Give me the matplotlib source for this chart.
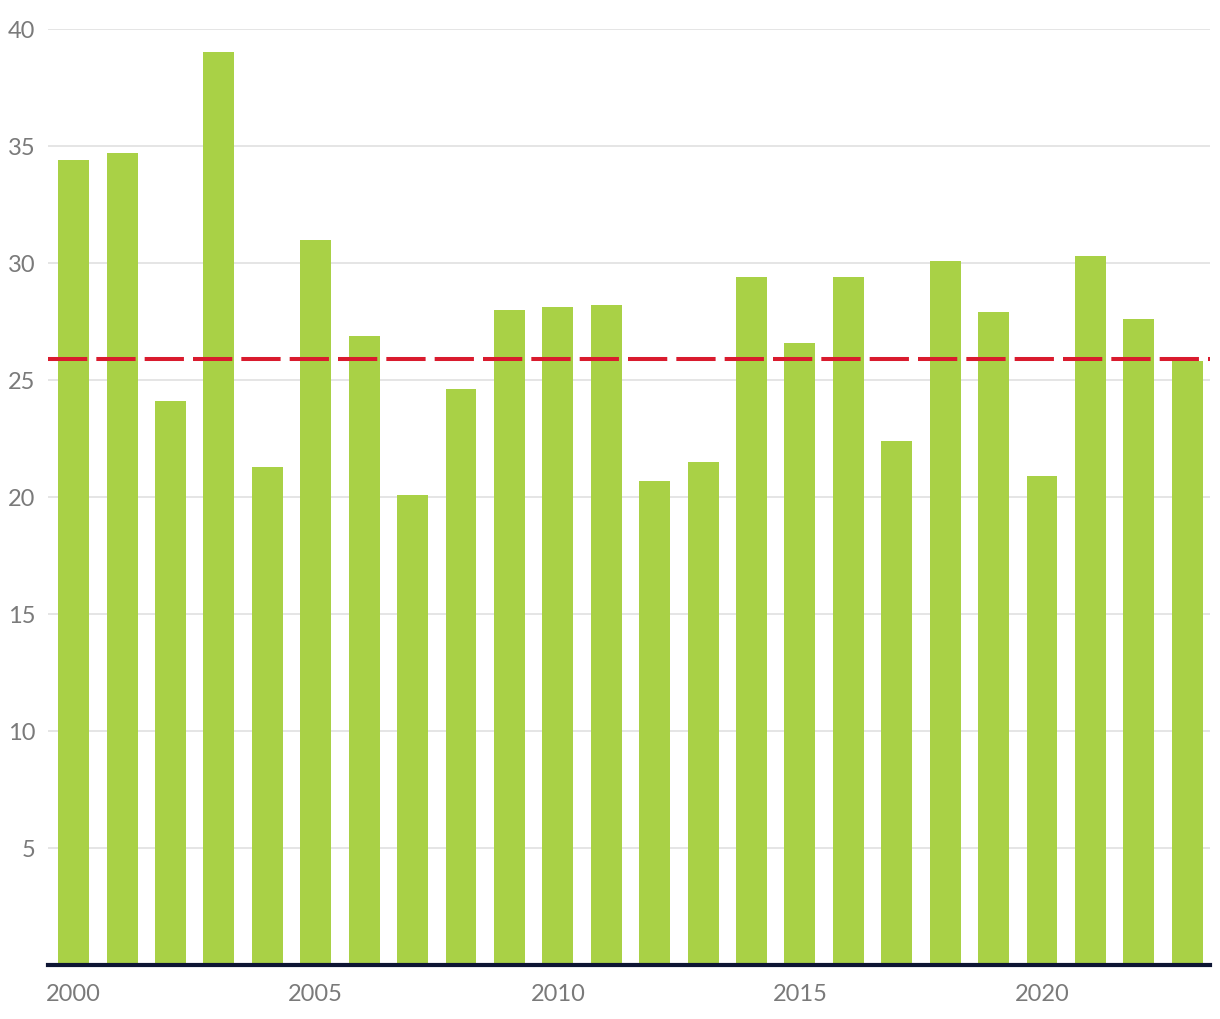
import matplotlib
matplotlib.use("Agg")
import matplotlib.pyplot as plt

years = list(range(2000, 2024))
values = [34.4, 34.7, 24.1, 39.0, 21.3, 31.0, 26.9, 20.1, 24.6, 28.0, 28.1, 28.2,
          20.7, 21.5, 29.4, 26.6, 29.4, 22.4, 30.1, 27.9, 20.9, 30.3, 27.6, 25.8]
reference_level = 25.9
y_ticks = [5, 10, 15, 20, 25, 30, 35, 40]
x_tick_years = [2000, 2005, 2010, 2015, 2020]

GREEN = "#a9d146"
RED = "#d91b2e"
GRID = "#e3e3e3"
TEXT = "#7a7a7a"

plt.rcParams["font.family"] = ["Lato", "DejaVu Sans"]

fig = plt.figure(figsize=(12.2, 10.2), dpi=100)
ax = fig.add_axes([48 / 1220, 1 - 966 / 1020, (1210 - 48) / 1220, (966 - 30) / 1020])

ax.bar(years, values, width=0.64, color=GREEN, zorder=2)
ax.axhline(reference_level, color=RED, lw=2.9, dashes=(9.75, 2.25), zorder=3)

ax.set_xlim(years[0] - 0.53, years[-1] + 0.47)
ax.set_ylim(0, 40)
ax.set_yticks(y_ticks)
ax.set_xticks(x_tick_years)
ax.yaxis.grid(True, color=GRID, lw=1.3, zorder=0)
ax.set_axisbelow(True)

for side in ("top", "right", "left"):
    ax.spines[side].set_visible(False)
ax.spines["bottom"].set_color("#0d1533")
ax.spines["bottom"].set_linewidth(3)
ax.spines["bottom"].set_zorder(4)

ax.tick_params(axis="both", length=0, labelsize=17, labelcolor=TEXT)
ax.tick_params(axis="y", pad=9)
ax.tick_params(axis="x", pad=13)

fig.savefig("out.png", dpi=100, facecolor="white")
